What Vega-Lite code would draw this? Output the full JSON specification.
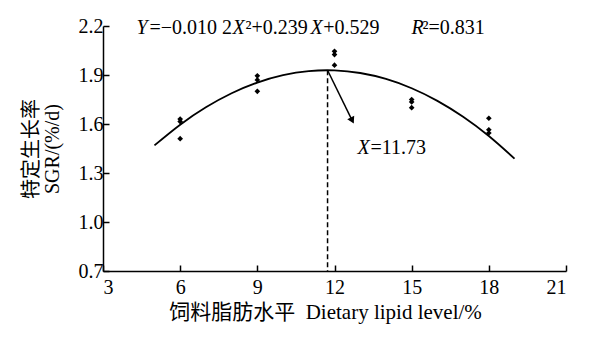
{
  "$schema": "https://vega.github.io/schema/vega-lite/v6.json",
  "width": 463,
  "height": 245,
  "autosize": "none",
  "padding": {"left": 103, "top": 26, "right": 35, "bottom": 74},
  "background": "white",
  "config": {
    "view": {"stroke": null},
    "axis": {
      "grid": false,
      "domainColor": "black",
      "domainWidth": 1.5,
      "tickColor": "black",
      "tickWidth": 1.5,
      "labelColor": "black",
      "labelFont": "Liberation Serif",
      "labelFontSize": 20,
      "titleColor": "black",
      "titleFont": "Liberation Serif, Noto Sans CJK SC",
      "titleFontSize": 20,
      "titleFontWeight": "normal"
    }
  },
  "datasets": {
    "pts": [
      {"x": 6, "y": 1.63}, {"x": 6, "y": 1.615}, {"x": 6, "y": 1.51},
      {"x": 9, "y": 1.895}, {"x": 9, "y": 1.87}, {"x": 9, "y": 1.80},
      {"x": 12, "y": 2.045}, {"x": 12, "y": 2.025}, {"x": 12, "y": 1.96},
      {"x": 15, "y": 1.75}, {"x": 15, "y": 1.735}, {"x": 15, "y": 1.70},
      {"x": 18, "y": 1.635}, {"x": 18, "y": 1.565}, {"x": 18, "y": 1.545}
    ],
    "curve": [
      {"x": 5, "y": 1.469}, {"x": 6, "y": 1.5958}, {"x": 7, "y": 1.7022},
      {"x": 8, "y": 1.7882}, {"x": 9, "y": 1.8538}, {"x": 10, "y": 1.899},
      {"x": 11, "y": 1.9238}, {"x": 12, "y": 1.9282}, {"x": 13, "y": 1.9122},
      {"x": 14, "y": 1.8758}, {"x": 15, "y": 1.819}, {"x": 16, "y": 1.7418},
      {"x": 17, "y": 1.6442}, {"x": 18, "y": 1.5262}, {"x": 19, "y": 1.3878}
    ],
    "vline": [{"x": 11.73, "y": 1.929, "y2": 0.7}],
    "arrow": [{"x": 11.73, "y": 1.929, "x2": 12.69, "y2": 1.621}],
    "head": [{"x": 12.69, "y": 1.621}],
    "italic": [
      {"x": 4.302, "y": 2.185, "t": "Y"},
      {"x": 8.035, "y": 2.185, "t": "X"},
      {"x": 11.07, "y": 2.185, "t": "X"},
      {"x": 14.995, "y": 2.185, "t": "R"},
      {"x": 12.895, "y": 1.453, "t": "X"}
    ],
    "upright": [
      {"x": 4.808, "y": 2.185, "t": "=−0.010 2"},
      {"x": 8.54, "y": 2.185, "t": "²+0.239"},
      {"x": 11.56, "y": 2.185, "t": "+0.529"},
      {"x": 15.422, "y": 2.185, "t": "²=0.831"},
      {"x": 13.4, "y": 1.453, "t": "=11.73"}
    ]
  },
  "layer": [
    {
      "data": {"name": "curve"},
      "mark": {"type": "line", "color": "black", "strokeWidth": 1.8, "interpolate": "natural"},
      "encoding": {
        "x": {"field": "x", "type": "quantitative", "scale": {"domain": [3, 21], "nice": false, "zero": false},
          "axis": {"values": [3, 6, 9, 12, 15, 18, 21], "tickSize": -6, "labelPadding": 12, "titlePadding": 4, "titleFontSize": 21,
            "title": "饲料脂肪水平\u00a0\u00a0Dietary lipid level/%", "titleX": 222, "titleAnchor": "middle", "titleAlign": "center"}},
        "y": {"field": "y", "type": "quantitative", "scale": {"domain": [0.7, 2.2], "nice": false, "zero": false},
          "axis": {"values": [0.7, 1.0, 1.3, 1.6, 1.9, 2.2], "format": ".1f", "tickSize": -6, "labelPadding": 6, "titlePadding": 16,
            "title": ["特定生长率", "SGR/(%/d)"], "titleLineHeight": 21}}
      }
    },
    {
      "data": {"name": "pts"},
      "mark": {"type": "point", "shape": "diamond", "filled": true, "color": "black", "opacity": 1, "size": 32},
      "encoding": {
        "x": {"field": "x", "type": "quantitative"},
        "y": {"field": "y", "type": "quantitative"}
      }
    },
    {
      "data": {"name": "vline"},
      "mark": {"type": "rule", "color": "black", "strokeWidth": 1.5, "strokeDash": [5, 3]},
      "encoding": {
        "x": {"field": "x", "type": "quantitative"},
        "y": {"field": "y", "type": "quantitative"},
        "y2": {"field": "y2"}
      }
    },
    {
      "data": {"name": "arrow"},
      "mark": {"type": "rule", "color": "black", "strokeWidth": 1.5},
      "encoding": {
        "x": {"field": "x", "type": "quantitative"},
        "y": {"field": "y", "type": "quantitative"},
        "x2": {"field": "x2"},
        "y2": {"field": "y2"}
      }
    },
    {
      "data": {"name": "head"},
      "mark": {"type": "point", "shape": "triangle-down", "filled": true, "color": "black", "opacity": 1, "size": 60, "angle": -27},
      "encoding": {
        "x": {"field": "x", "type": "quantitative"},
        "y": {"field": "y", "type": "quantitative"}
      }
    },
    {
      "data": {"name": "italic"},
      "mark": {"type": "text", "align": "left", "baseline": "middle", "font": "Liberation Serif", "fontSize": 20, "fontStyle": "italic", "color": "black"},
      "encoding": {
        "x": {"field": "x", "type": "quantitative"},
        "y": {"field": "y", "type": "quantitative"},
        "text": {"field": "t"}
      }
    },
    {
      "data": {"name": "upright"},
      "mark": {"type": "text", "align": "left", "baseline": "middle", "font": "Liberation Serif", "fontSize": 20, "color": "black"},
      "encoding": {
        "x": {"field": "x", "type": "quantitative"},
        "y": {"field": "y", "type": "quantitative"},
        "text": {"field": "t"}
      }
    }
  ]
}
